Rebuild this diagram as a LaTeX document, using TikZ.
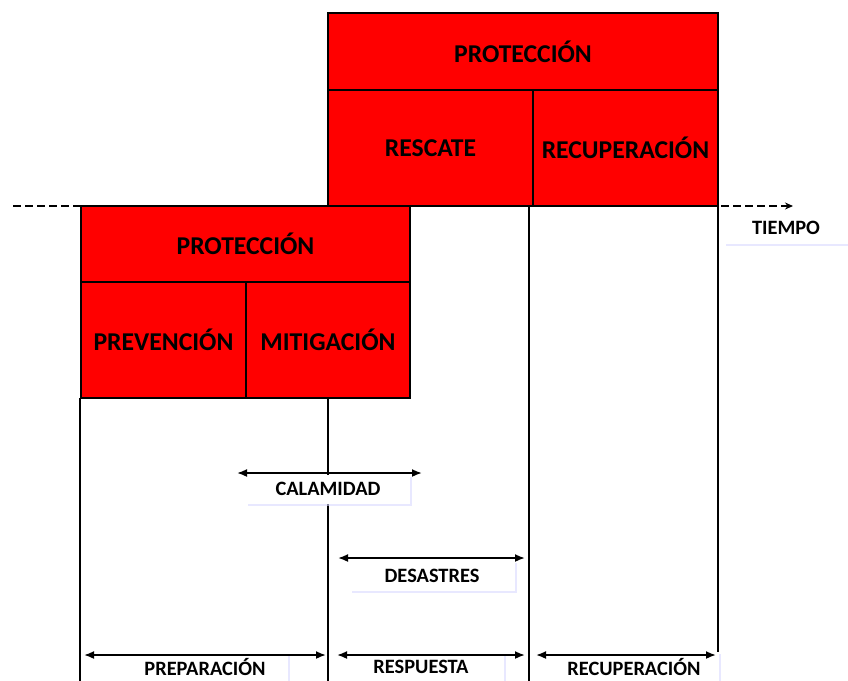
\documentclass[tikz,border=0pt]{standalone}
\usepackage{fontspec}
\setmainfont{Carlito}
\usetikzlibrary{arrows.meta,shadows}
\tikzstyle{cell}=[rectangle, draw=black, fill=red, line width=1.4pt, inner sep=0pt, font=\bfseries\fontsize{14.6}{16}\selectfont]
\tikzstyle{tag}=[rectangle, fill=white, inner sep=0pt, font=\bfseries\fontsize{11.6}{13}\selectfont, drop shadow={shadow xshift=0.4mm, shadow yshift=-0.4mm, fill=blue!15, opacity=0.6}]
\tikzstyle{spanarrow}=[{Latex[length=2mm,width=1.6mm]}-{Latex[length=2mm,width=1.6mm]}, line width=1pt]
\tikzstyle{vline}=[line width=1.2pt]

\begin{document}
\begin{tikzpicture}[x=0.2mm, y=-0.2mm]
	\useasboundingbox (0,0) rectangle (848,680);
	\begin{scope}
		% eje del tiempo
		\coordinate (d0) at (13,206);
		\coordinate (d1) at (793,206);
		\draw [line width=0.9pt, dash pattern=on 1.6mm off 0.8mm, -{Stealth[length=1.6mm,width=1.4mm]}] (d0) -- (d1);

		% lineas verticales
		\coordinate (v1a) at (80,398);   \coordinate (v1b) at (80,690);
		\coordinate (v2a) at (328,398);  \coordinate (v2b) at (328,690);
		\coordinate (v3a) at (529,206);  \coordinate (v3b) at (529,690);
		\coordinate (v4a) at (718,206);  \coordinate (v4b) at (718,690);
		\path [vline] (v1a) edge (v1b);
		\path [vline] (v2a) edge (v2b);
		\path [vline] (v3a) edge (v3b);
		\path [vline] (v4a) edge (v4b);
	\end{scope}
	\begin{scope}
		\node (p1) at (523,51.5) [cell, minimum width=78mm, minimum height=15.4mm] {PROTECCIÓN};
		\node (r1) at (430.5,148) [cell, minimum width=41mm, minimum height=23.2mm] {RESCATE};
		\node (r2) at (625.5,148) [cell, minimum width=37mm, minimum height=23.2mm] {RECUPERACIÓN};

		\node (p2) at (245.5,244) [cell, minimum width=65.8mm, minimum height=15.2mm] {PROTECCIÓN};
		\node (m1) at (163.5,340) [cell, minimum width=33mm, minimum height=23.2mm] {PREVENCIÓN};
		\node (m2) at (328,340) [cell, minimum width=32.8mm, minimum height=23.2mm] {MITIGACIÓN};

		\node (tp) at (786,228) [tag, minimum width=25mm, minimum height=6.4mm] {TIEMPO};
	\end{scope}
	\begin{scope}
		\node (ca) at (328,489) [tag, minimum width=32.8mm, minimum height=5.8mm] {CALAMIDAD};
		\node (de) at (432,576) [tag, minimum width=33mm, minimum height=6mm] {DESASTRES};
		\node (pr) at (205,667) [tag, minimum width=33.2mm, minimum height=6mm] {PREPARACIÓN};
		\node (re) at (421,667) [tag, minimum width=33.2mm, minimum height=6mm] {RESPUESTA};
		\node (rc) at (634,667) [tag, minimum width=34mm, minimum height=6mm] {RECUPERACIÓN};

		\coordinate (ca1) at (237,473);  \coordinate (ca2) at (422,473);
		\coordinate (de1) at (338,558);  \coordinate (de2) at (525,558);
		\coordinate (pr1) at (84,655);   \coordinate (pr2) at (326,655);
		\coordinate (re1) at (337,655);  \coordinate (re2) at (525,655);
		\coordinate (rc1) at (536,655);  \coordinate (rc2) at (716,655);
		\path [spanarrow] (ca1) edge (ca2);
		\path [spanarrow] (de1) edge (de2);
		\path [spanarrow] (pr1) edge (pr2);
		\path [spanarrow] (re1) edge (re2);
		\path [spanarrow] (rc1) edge (rc2);
	\end{scope}
\end{tikzpicture}
\end{document}
